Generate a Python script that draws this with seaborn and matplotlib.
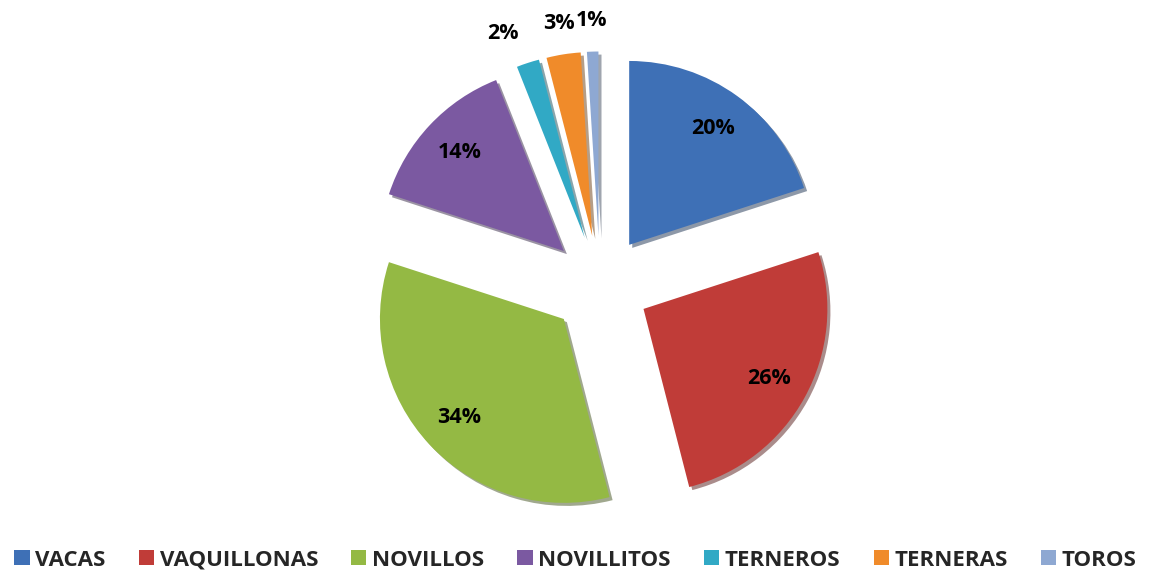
#!/usr/bin/env python3

import numpy as np
import matplotlib
matplotlib.use("Agg")
import matplotlib.pyplot as plt
import seaborn as sns

# categories and shares (%)
categories = ["VACAS", "VAQUILLONAS", "NOVILLOS", "NOVILLITOS",
              "TERNEROS", "TERNERAS", "TOROS"]
shares = [20, 26, 34, 14, 2, 3, 1]
colors = ["#3e70b6", "#c03c38", "#94b944", "#7b59a1",
          "#31a9c5", "#f08b2a", "#8ea8d2"]


def plot_pie():
    sns.set_style("white")
    plt.rcParams["font.family"] = ["Open Sans", "DejaVu Sans"]

    fig = plt.figure(figsize=(11.51, 5.71), dpi=100)
    ax = fig.add_axes([315 / 1151, 1 / 571, 570 / 1151, 570 / 571])

    wedges, texts, autotexts = ax.pie(
        shares,
        colors=colors,
        startangle=90,
        counterclock=False,
        explode=[0.27] * len(shares),
        autopct="%d%%",
        pctdistance=0.78,
        shadow={"ox": 0.012, "oy": -0.012, "shade": 0.55},
        wedgeprops={"linewidth": 0},
        textprops={"fontsize": 15.5, "fontweight": "bold", "color": "black"},
    )

    # small slices get their labels outside the pie
    for w, t, v in zip(wedges, autotexts, shares):
        if v < 5:
            ang = np.deg2rad((w.theta1 + w.theta2) / 2)
            cx, cy = w.center
            t.set_position((cx + 1.17 * np.cos(ang), cy + 1.17 * np.sin(ang)))
            t.set_va("center")
            if np.cos(ang) < -0.2:
                t.set_ha("right")

    ax.set_xlim(-1.55, 1.55)
    ax.set_ylim(-1.55, 1.55)
    ax.set_aspect("equal")
    ax.axis("off")

    fig.legend(
        wedges, categories,
        loc="center", bbox_to_anchor=(0.5, 11 / 571),
        ncol=len(categories), frameon=False,
        handlelength=0.68, handleheight=0.68, handletextpad=0.25,
        columnspacing=1.5, borderpad=0, borderaxespad=0,
        prop={"size": 16, "weight": "bold"},
    )

    fig.savefig("out.png", dpi=100, facecolor="white")


if __name__ == "__main__":
    plot_pie()
